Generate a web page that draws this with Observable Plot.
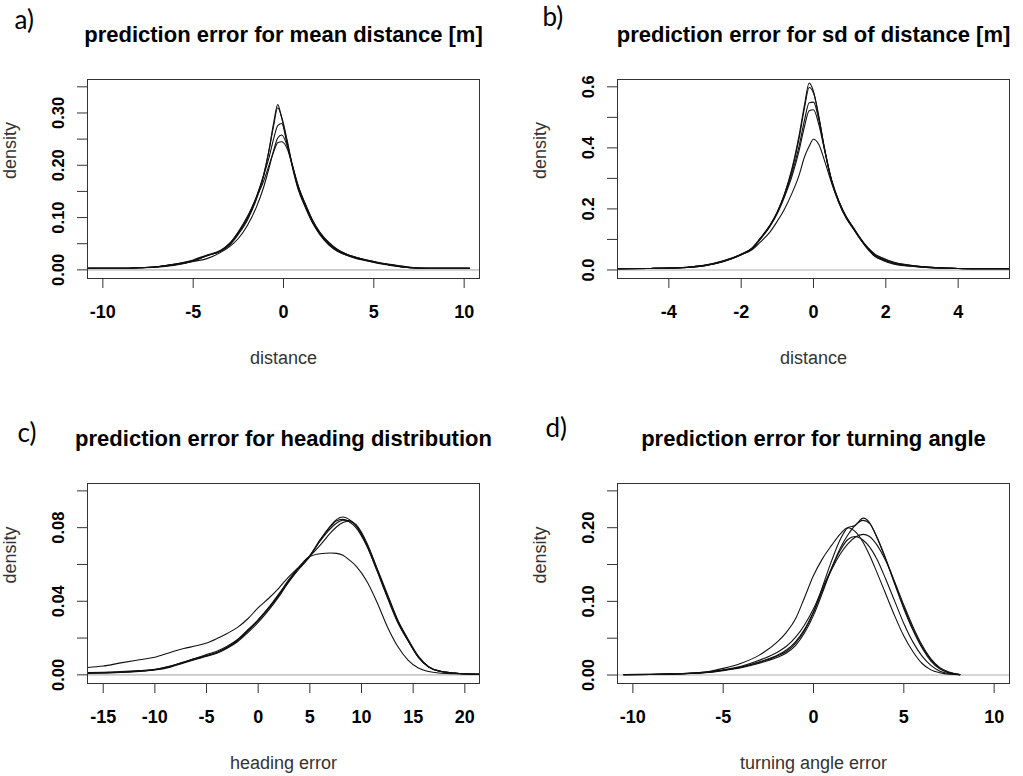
<!DOCTYPE html>
<html><head><meta charset="utf-8">
<script src="https://cdn.jsdelivr.net/npm/d3@7"></script>
<script src="https://cdn.jsdelivr.net/npm/@observablehq/plot@0.6"></script>
<style>
html,body{margin:0;padding:0;background:#fff;}
#chart{position:relative;width:1023px;height:776px;overflow:hidden;background:#fff;}
#chart svg{position:absolute;}
</style></head><body><div id="chart"></div>
<script>
// ---- a) prediction error for mean distance ----
const aX = [-10.8,-9,-8,-7,-6,-5,-4.2,-3.5,-3,-2.5,-2,-1.5,-1.1,-0.8,-0.55,-0.32,-0.1,0.2,0.5,0.8,1.2,1.6,2.0,2.5,3,3.5,4,5,6,7,8,10.3];
const aY = [
  [0.003,0.003,0.004,0.006,0.011,0.018,0.027,0.036,0.047,0.068,0.095,0.135,0.180,0.230,0.280,0.316,0.290,0.245,0.195,0.155,0.120,0.090,0.068,0.048,0.035,0.028,0.024,0.014,0.008,0.004,0.003,0.003],
  [0.003,0.003,0.004,0.006,0.010,0.017,0.028,0.035,0.048,0.070,0.098,0.138,0.182,0.228,0.275,0.310,0.292,0.248,0.198,0.158,0.122,0.092,0.070,0.050,0.036,0.028,0.022,0.015,0.009,0.004,0.003,0.003],
  [0.003,0.003,0.004,0.006,0.011,0.019,0.029,0.037,0.050,0.072,0.100,0.140,0.180,0.215,0.250,0.276,0.280,0.240,0.198,0.160,0.124,0.093,0.070,0.050,0.037,0.029,0.023,0.015,0.009,0.004,0.003,0.003],
  [0.003,0.003,0.004,0.005,0.009,0.016,0.022,0.033,0.044,0.060,0.085,0.120,0.158,0.195,0.228,0.252,0.258,0.238,0.200,0.162,0.126,0.095,0.072,0.052,0.038,0.030,0.024,0.016,0.010,0.005,0.003,0.003],
  [0.003,0.003,0.004,0.006,0.010,0.017,0.028,0.036,0.050,0.073,0.102,0.138,0.170,0.200,0.225,0.243,0.245,0.232,0.198,0.162,0.127,0.096,0.073,0.053,0.039,0.030,0.024,0.016,0.009,0.005,0.003,0.003]
];
const aXTicks = [-10,-5,0,5,10];
const aYTicks = [0,0.05,0.10,0.15,0.20,0.25,0.30,0.35];
const aYLabels = ["0.00","","0.10","","0.20","","0.30",""];

// ---- b) prediction error for sd of distance ----
const bX = [-5.4,-4.5,-4,-3.5,-3,-2.5,-2,-1.7,-1.5,-1.2,-1.0,-0.8,-0.6,-0.4,-0.25,-0.12,0,0.15,0.3,0.5,0.7,0.9,1.1,1.3,1.5,1.7,1.9,2.2,2.6,3,3.5,4,4.5,5.4];
const bY = [
  [0.004,0.005,0.006,0.008,0.014,0.027,0.050,0.070,0.097,0.145,0.190,0.250,0.330,0.440,0.540,0.612,0.585,0.500,0.400,0.290,0.220,0.170,0.135,0.100,0.070,0.047,0.035,0.023,0.015,0.010,0.007,0.005,0.004,0.004],
  [0.004,0.005,0.006,0.009,0.015,0.028,0.051,0.071,0.098,0.146,0.190,0.248,0.325,0.430,0.530,0.598,0.580,0.500,0.400,0.292,0.222,0.172,0.136,0.101,0.070,0.046,0.034,0.022,0.014,0.009,0.006,0.005,0.004,0.004],
  [0.004,0.005,0.006,0.009,0.015,0.029,0.052,0.072,0.100,0.148,0.190,0.245,0.315,0.405,0.490,0.548,0.550,0.490,0.400,0.295,0.225,0.174,0.137,0.100,0.068,0.044,0.032,0.020,0.013,0.009,0.006,0.005,0.004,0.004],
  [0.004,0.005,0.006,0.008,0.014,0.028,0.050,0.070,0.097,0.143,0.185,0.240,0.305,0.390,0.470,0.522,0.525,0.475,0.395,0.295,0.226,0.175,0.138,0.102,0.072,0.050,0.038,0.025,0.016,0.011,0.007,0.005,0.004,0.004],
  [0.004,0.005,0.006,0.009,0.016,0.030,0.050,0.066,0.088,0.125,0.160,0.200,0.250,0.310,0.370,0.405,0.428,0.410,0.360,0.285,0.224,0.176,0.140,0.104,0.074,0.052,0.040,0.026,0.017,0.011,0.007,0.005,0.004,0.004]
];
const bXTicks = [-4,-2,0,2,4];
const bYTicks = [0,0.1,0.2,0.3,0.4,0.5,0.6];
const bYLabels = ["0.0","","0.2","","0.4","","0.6"];

// ---- c) prediction error for heading distribution ----
const cX = [-16.5,-15,-13.3,-11.5,-10,-8.5,-7.2,-6,-5,-4,-3,-2,-1,0,1,2,3,4,4.9,6,7,7.6,8.2,8.8,9.5,10.5,11.5,12.5,13.5,14.5,15.5,16.5,17.5,19,21.4];
const cY = [
  [0.0010,0.0012,0.0015,0.0020,0.0026,0.0042,0.0065,0.0085,0.0101,0.0118,0.0145,0.0180,0.0230,0.0285,0.0350,0.0425,0.0510,0.0585,0.0640,0.0735,0.0810,0.0845,0.0858,0.0845,0.0810,0.0705,0.0565,0.0420,0.0285,0.0185,0.0095,0.0042,0.0022,0.0010,0.0003],
  [0.0008,0.0010,0.0013,0.0019,0.0028,0.0045,0.0068,0.0088,0.0103,0.0120,0.0148,0.0185,0.0238,0.0295,0.0360,0.0435,0.0515,0.0585,0.0640,0.0728,0.0795,0.0825,0.0840,0.0838,0.0808,0.0712,0.0575,0.0432,0.0295,0.0190,0.0098,0.0043,0.0020,0.0009,0.0003],
  [0.0012,0.0014,0.0018,0.0024,0.0030,0.0048,0.0070,0.0090,0.0105,0.0122,0.0150,0.0188,0.0242,0.0300,0.0365,0.0440,0.0520,0.0588,0.0638,0.0705,0.0772,0.0805,0.0828,0.0835,0.0815,0.0720,0.0580,0.0440,0.0300,0.0195,0.0102,0.0045,0.0021,0.0010,0.0003],
  [0.0010,0.0011,0.0014,0.0021,0.0029,0.0046,0.0069,0.0092,0.0110,0.0128,0.0155,0.0192,0.0245,0.0298,0.0362,0.0432,0.0508,0.0578,0.0636,0.0730,0.0805,0.0838,0.0845,0.0832,0.0798,0.0702,0.0568,0.0425,0.0290,0.0188,0.0097,0.0043,0.0021,0.0010,0.0003],
  [0.0040,0.0048,0.0065,0.0082,0.0096,0.0122,0.0143,0.0158,0.0173,0.0197,0.0225,0.0258,0.0305,0.0365,0.0415,0.0472,0.0535,0.0590,0.0640,0.0658,0.0662,0.0660,0.0650,0.0625,0.0590,0.0510,0.0395,0.0262,0.0155,0.0080,0.0037,0.0018,0.0010,0.0006,0.0003]
];
const cXTicks = [-15,-10,-5,0,5,10,15,20];
const cYTicks = [0,0.02,0.04,0.06,0.08,0.10];
const cYLabels = ["0.00","","0.04","","0.08",""];

// ---- d) prediction error for turning angle ----
const dX = [-10.5,-9,-8,-7,-6,-5,-4,-3,-2,-1.5,-1,-0.5,0,0.5,1,1.5,1.9,2.3,2.75,3.1,3.5,4,4.5,5,5.5,6,6.5,7,7.5,8.1];
const dY = [
  [0.0008,0.0010,0.0015,0.0025,0.0040,0.0090,0.0160,0.0270,0.0450,0.0580,0.0760,0.1050,0.1350,0.1580,0.1760,0.1920,0.2000,0.1950,0.1800,0.1630,0.1400,0.1100,0.0800,0.0530,0.0320,0.0160,0.0070,0.0030,0.0010,0.0003],
  [0.0005,0.0008,0.0012,0.0020,0.0035,0.0065,0.0110,0.0170,0.0260,0.0320,0.0430,0.0600,0.0850,0.1200,0.1550,0.1850,0.2000,0.2030,0.2130,0.2070,0.1870,0.1570,0.1230,0.0900,0.0610,0.0370,0.0190,0.0080,0.0030,0.0005],
  [0.0005,0.0007,0.0010,0.0018,0.0030,0.0060,0.0100,0.0160,0.0240,0.0300,0.0400,0.0570,0.0810,0.1120,0.1450,0.1730,0.1900,0.2030,0.2100,0.2060,0.1880,0.1580,0.1250,0.0920,0.0630,0.0390,0.0210,0.0090,0.0035,0.0006],
  [0.0005,0.0008,0.0012,0.0020,0.0035,0.0065,0.0110,0.0180,0.0270,0.0340,0.0450,0.0620,0.0860,0.1150,0.1430,0.1650,0.1780,0.1870,0.1910,0.1880,0.1770,0.1550,0.1260,0.0950,0.0660,0.0410,0.0220,0.0100,0.0040,0.0007],
  [0.0006,0.0009,0.0013,0.0022,0.0040,0.0070,0.0120,0.0200,0.0310,0.0390,0.0510,0.0680,0.0900,0.1180,0.1450,0.1700,0.1840,0.1880,0.1830,0.1740,0.1580,0.1300,0.1000,0.0700,0.0450,0.0260,0.0130,0.0050,0.0020,0.0004]
];
const dXTicks = [-10,-5,0,5,10];
const dYTicks = [0,0.05,0.10,0.15,0.20,0.25];
const dYLabels = ["0.00","","0.10","","0.20",""];

const titles = ["prediction error for mean distance [m]","prediction error for sd of distance [m]","prediction error for heading distribution","prediction error for turning angle"];
const tags = ["a)","b)","c)","d)"];
const xLabels = ["distance","distance","heading error","turning angle error"];
const yLabel = "density";

// ---- layout (page pixels) ----
const panels = [
  {X:aX, Y:aY, xt:aXTicks, yt:aYTicks, yl:aYLabels, xd:[-10.85,10.85], yd:[-0.0165,0.364], left:0, top:0, w:511, h:388, ml:87, mr:32, mt:79, mb:110, tag:[-73,-51]},
  {X:bX, Y:bY, xt:bXTicks, yt:bYTicks, yl:bYLabels, xd:[-5.42,5.42], yd:[-0.028,0.624], left:511, top:0, w:512, h:388, ml:106, mr:14, mt:79, mb:110, tag:[-75,-54]},
  {X:cX, Y:cY, xt:cXTicks, yt:cYTicks, yl:cYLabels, xd:[-16.52,21.42], yd:[-0.0047,0.104], left:0, top:388, w:511, h:388, ml:87, mr:32, mt:95, mb:93, tag:[-70,-42]},
  {X:dX, Y:dY, xt:dXTicks, yt:dYTicks, yl:dYLabels, xd:[-10.85,10.85], yd:[-0.0115,0.26], left:511, top:388, w:512, h:388, ml:106, mr:14, mt:95, mb:93, tag:[-72,-47]}
];

const chart = document.getElementById("chart");
panels.forEach((p, k) => {
  const rows = p.Y.flatMap((ys, s) => ys.map((y, i) => ({x: p.X[i], y, s})));
  const svg = Plot.plot({
    width: p.w, height: p.h,
    marginLeft: p.ml, marginRight: p.mr, marginTop: p.mt, marginBottom: p.mb,
    x: {domain: p.xd}, y: {domain: p.yd},
    style: {fontFamily: "'Liberation Sans', Arial, sans-serif", background: "transparent", overflow: "visible", color: "#000"},
    marks: [
      Plot.ruleY([0], {stroke: "#c8c8c8", strokeWidth: 1.6}),
      Plot.line(rows, {x: "x", y: "y", z: "s", stroke: "#111", strokeWidth: 1.1, curve: "monotone-x"}),
      Plot.frame({stroke: "#333", strokeWidth: 1}),
      Plot.axisX({ticks: p.xt, tickSize: 10, tickPadding: 17, tickFormat: d => String(d), fontSize: 18, fontWeight: "bold", fill: "#000", stroke: "#333", label: null}),
      Plot.axisY({ticks: p.yt, tickSize: 10, tickPadding: 14, tickRotate: -90, tickFormat: d => p.yl[p.yt.indexOf(d)], fontSize: 16.5, fontWeight: "bold", fill: "#000", stroke: "#333", label: null}),
      Plot.text([xLabels[k]], {text: d => d, frameAnchor: "bottom", dy: 85, lineAnchor: "bottom", fontSize: 18, fill: "#333"}),
      Plot.text([yLabel], {text: d => d, frameAnchor: "left", dx: -72, rotate: -90, lineAnchor: "bottom", fontSize: 18, fill: "#333"}),
      Plot.text([titles[k]], {text: d => d, frameAnchor: "top", dy: -37.5, lineAnchor: "bottom", fontSize: 22, fontWeight: "bold", fill: "#000"}),
      Plot.text([tags[k]], {text: d => d, frameAnchor: "top-left", dx: p.tag[0], dy: p.tag[1], textAnchor: "start", lineAnchor: "bottom", fontSize: 26, fontFamily: "Lato, 'Open Sans', sans-serif", fill: "#000"})
    ]
  });
  svg.style.left = p.left + "px";
  svg.style.top = p.top + "px";
  chart.appendChild(svg);
});
</script></body></html>
